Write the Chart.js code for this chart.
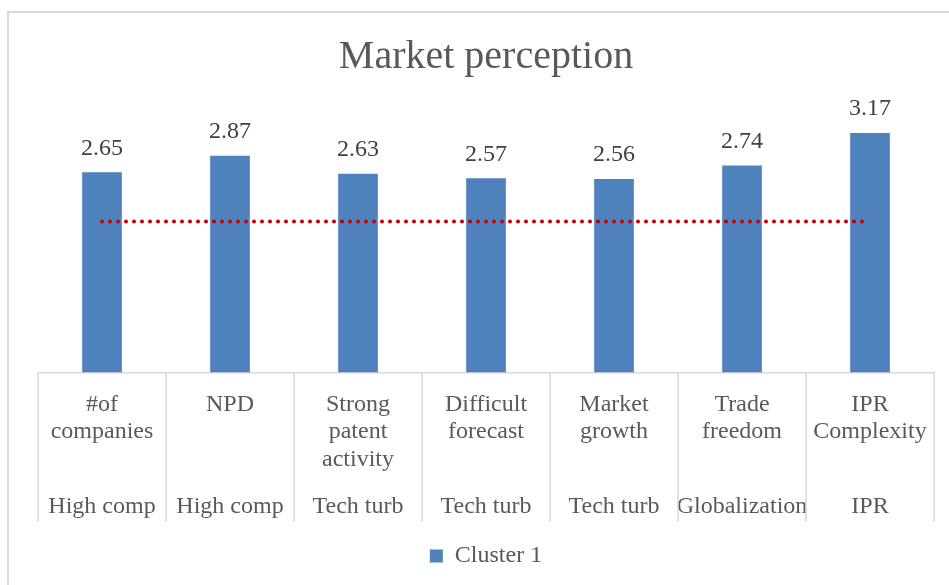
<!DOCTYPE html>
<html>
<head>
<meta charset="utf-8">
<script src="https://cdn.jsdelivr.net/npm/chart.js@4.4.0/dist/chart.umd.min.js"></script>
<style>
    html, body { margin: 0; padding: 0; background: #fff; overflow: hidden; }
    #frame { position: absolute; left: 7px; top: 11px; width: 1000px; height: 1000px; border: 2px solid #d9d9d9; }
    #wrap { position: absolute; left: 0; top: 0; width: 949px; height: 585px; }
</style>
</head>
<body>
<div id="frame"></div>
<div id="wrap"><canvas id="chart"></canvas></div>
<script>
const categories = [
    ['#of', 'companies'],
    ['NPD'],
    ['Strong', 'patent', 'activity'],
    ['Difficult', 'forecast'],
    ['Market', 'growth'],
    ['Trade', 'freedom'],
    ['IPR', 'Complexity']
];
const groups = ['High comp', 'High comp', 'Tech turb', 'Tech turb', 'Tech turb', 'Globalization', 'IPR'];
const cluster1 = [2.65, 2.87, 2.63, 2.57, 2.56, 2.74, 3.17];
const reference = [2, 2, 2, 2, 2, 2, 2];

const serif = 'Liberation Serif';
const gridGray = '#d9d9d9';
const textGray = '#595959';

// value labels above the bars
const barLabels = {
    id: 'barLabels',
    afterDatasetsDraw(chart) {
        const ctx = chart.ctx;
        const meta = chart.getDatasetMeta(0);
        ctx.save();
        ctx.font = '24px "' + serif + '"';
        ctx.fillStyle = '#404040';
        ctx.textAlign = 'center';
        ctx.textBaseline = 'middle';
        meta.data.forEach((bar, i) => {
            ctx.fillText(cluster1[i].toFixed(2), bar.x, bar.y - 24);
        });
        ctx.restore();
    }
};

// vertical separators running through both label rows
const categoryDividers = {
    id: 'categoryDividers',
    afterDraw(chart) {
        const x = chart.scales.x;
        const x2 = chart.scales.x2;
        const ctx = chart.ctx;
        ctx.save();
        ctx.strokeStyle = gridGray;
        ctx.lineWidth = 1.5;
        for (let i = 0; i <= categories.length; i++) {
            const px = Math.round(x.getPixelForValue(i - 0.5));
            ctx.beginPath();
            ctx.moveTo(px, x.top);
            ctx.lineTo(px, x2.bottom);
            ctx.stroke();
        }
        ctx.restore();
    }
};

new Chart(document.getElementById('chart'), {
    type: 'bar',
    data: {
        labels: categories,
        datasets: [
            {
                label: 'Cluster 1',
                data: cluster1,
                backgroundColor: '#4f81bd',
                categoryPercentage: 1,
                barPercentage: 0.31,
                order: 1
            },
            {
                type: 'line',
                label: 'Reference',
                data: reference,
                borderColor: '#c00000',
                borderWidth: 4,
                borderDash: [0, 8],
                borderCapStyle: 'round',
                pointRadius: 0,
                fill: false,
                order: 0
            }
        ]
    },
    plugins: [barLabels, categoryDividers],
    options: {
        responsive: true,
        maintainAspectRatio: false,
        animation: false,
        layout: { padding: { left: 38, right: 15, top: 0, bottom: 7 } },
        plugins: {
            title: {
                display: true,
                text: 'Market perception',
                color: textGray,
                font: { family: serif, size: 40, weight: 'normal' },
                padding: { top: 33, bottom: 27 }
            },
            legend: {
                position: 'bottom',
                labels: {
                    filter: item => item.text === 'Cluster 1',
                    boxWidth: 13,
                    boxHeight: 13,
                    color: textGray,
                    font: { family: serif, size: 24 },
                    padding: 22
                }
            },
            tooltip: { enabled: false }
        },
        scales: {
            x: {
                offset: true,
                weight: 0,
                grid: { display: false, drawTicks: false },
                border: { display: true, color: gridGray, width: 1.5 },
                ticks: {
                    color: textGray,
                    font: { family: serif, size: 24, lineHeight: 1.15 },
                    padding: 18,
                    maxRotation: 0,
                    minRotation: 0,
                    autoSkip: false
                }
            },
            x2: {
                type: 'category',
                position: 'bottom',
                weight: 1,
                labels: groups,
                offset: true,
                grid: { display: false, drawTicks: false },
                border: { display: false },
                ticks: {
                    color: textGray,
                    font: { family: serif, size: 24, lineHeight: 1.15 },
                    padding: 1.5,
                    maxRotation: 0,
                    minRotation: 0,
                    autoSkip: false
                }
            },
            y: {
                display: false,
                min: 0,
                max: 3.5
            }
        }
    }
});
</script>
</body>
</html>
